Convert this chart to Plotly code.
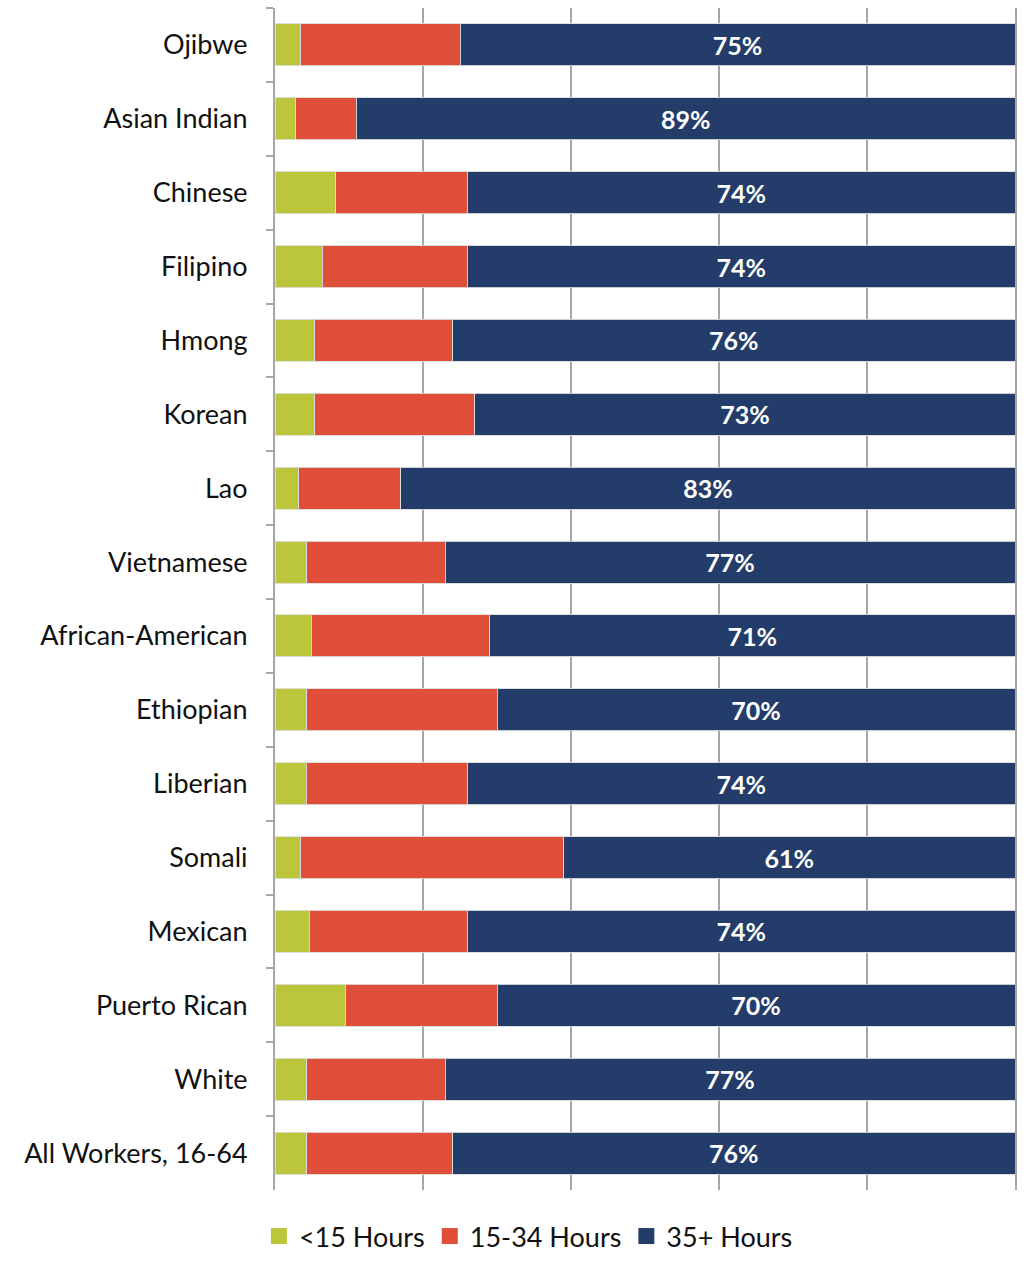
import plotly.graph_objects as go

# Share of workers by usual hours worked per week, by group
groups = [
    "Ojibwe", "Asian Indian", "Chinese", "Filipino", "Hmong", "Korean", "Lao",
    "Vietnamese", "African-American", "Ethiopian", "Liberian", "Somali",
    "Mexican", "Puerto Rican", "White", "All Workers, 16-64",
]
under_15 = [3.5, 2.8, 8.2, 6.4, 5.4, 5.4, 3.2, 4.3, 4.9, 4.3, 4.2, 3.5, 4.6, 9.5, 4.3, 4.3]
full_time = [75, 89, 74, 74, 76, 73, 83, 77, 71, 70, 74, 61, 74, 70, 77, 76]
part_time = [round(100 - a - c, 1) for a, c in zip(under_15, full_time)]

series_names = ["<15 Hours", "15-34 Hours", "35+ Hours"]
colors = ["#BCC63A", "#DF4E39", "#243C69"]

FONT = "Lato"
TEXT_SIZE = 27
GRID = "#A6A6A6"

fig = go.Figure()
for name, vals, col in zip(series_names, [under_15, part_time, full_time], colors):
    is_full = name == "35+ Hours"
    fig.add_trace(go.Bar(
        y=groups,
        x=vals,
        name=name,
        orientation="h",
        showlegend=False,
        marker=dict(color=col, line=dict(color="rgba(220,220,220,0.9)", width=1)),
        text=[f"{v:.0f}%" for v in vals] if is_full else None,
        textposition="inside" if is_full else "none",
        insidetextanchor="middle",
        textfont=dict(family=FONT, size=25, color="white", weight="bold"),
        hoverinfo="x+y+name",
    ))

# Legend entries with larger square swatches
for name, col in zip(series_names, colors):
    fig.add_trace(go.Scatter(
        x=[None], y=[None],
        mode="markers",
        name=name,
        marker=dict(symbol="square", size=16, color=col),
        showlegend=True,
        hoverinfo="skip",
    ))

fig.update_layout(
    barmode="stack",
    bargap=0.43,
    width=1024,
    height=1261,
    margin=dict(l=275, r=9, t=8, b=71),
    paper_bgcolor="white",
    plot_bgcolor="white",
    font=dict(family=FONT, size=TEXT_SIZE, color="#111111"),
    legend=dict(
        orientation="h",
        xref="container", yref="container",
        x=0.516, y=-0.009, xanchor="center", yanchor="bottom",
        font=dict(family=FONT, size=TEXT_SIZE, color="#111111"),
        traceorder="normal",
        itemwidth=30,
        bgcolor="rgba(0,0,0,0)",
    ),
    uniformtext=dict(mode="show", minsize=10),
)

fig.update_xaxes(
    range=[0, 100],
    dtick=20,
    showgrid=True,
    gridcolor=GRID,
    gridwidth=2,
    showticklabels=False,
    zeroline=False,
    showline=False,
    fixedrange=True,
)

fig.update_yaxes(
    categoryorder="array",
    categoryarray=groups,
    autorange="reversed",
    showline=True,
    mirror=True,
    linecolor=GRID,
    linewidth=2,
    ticks="outside",
    tickson="boundaries",
    ticklen=7,
    tickwidth=2,
    tickcolor=GRID,
    ticklabelstandoff=20,
    tickfont=dict(family=FONT, size=TEXT_SIZE, color="#111111"),
    showgrid=False,
)

fig.write_html("out.html")
